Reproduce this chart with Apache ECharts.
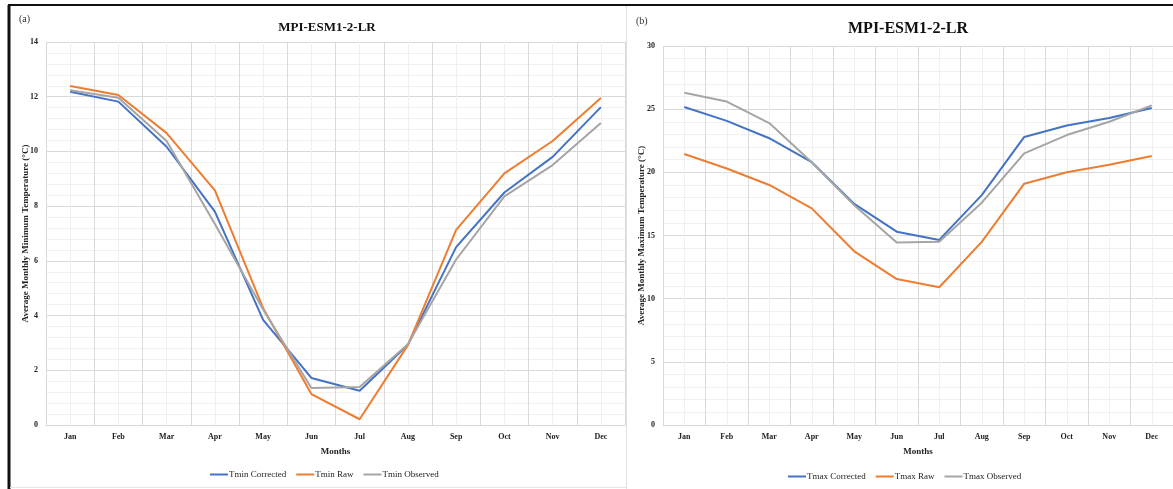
<!DOCTYPE html>
<html>
<head>
<meta charset="utf-8">
<script src="https://cdn.jsdelivr.net/npm/echarts@6/dist/echarts.min.js"></script>
<style>
html,body{margin:0;padding:0;background:#fff;}
#chart{width:1173px;height:489px;}
</style>
</head>
<body>
<div id="chart"></div>
<script>
const months = ['Jan','Feb','Mar','Apr','May','Jun','Jul','Aug','Sep','Oct','Nov','Dec'];
const tminCorrected = [12.18, 11.82, 10.17, 7.8, 3.84, 1.72, 1.25, 2.93, 6.5, 8.5, 9.8, 11.62];
const tminRaw       = [12.39, 12.06, 10.67, 8.58, 4.27, 1.13, 0.21, 2.92, 7.13, 9.2, 10.38, 11.95];
const tminObserved  = [12.24, 11.96, 10.38, 7.35, 4.22, 1.35, 1.39, 2.95, 6.05, 8.36, 9.5, 11.04];
const tmaxCorrected = [25.17, 24.07, 22.7, 20.8, 17.5, 15.3, 14.65, 18.2, 22.8, 23.7, 24.3, 25.1];
const tmaxRaw       = [21.45, 20.3, 19.0, 17.15, 13.75, 11.55, 10.9, 14.5, 19.1, 20.0, 20.6, 21.3];
const tmaxObserved  = [26.3, 25.6, 23.9, 20.8, 17.4, 14.45, 14.5, 17.6, 21.5, 22.95, 24.0, 25.3];

const C_BLUE = '#4472C4', C_ORANGE = '#ED7D31', C_GREY = '#A5A5A5';
const SERIF = '"Liberation Serif","DejaVu Serif",serif';

function catAxis(grid){
  return {
    type:'category', gridIndex:grid, data:months, boundaryGap:true,
    axisLine:{show:true,lineStyle:{color:'#d9d9d9'}}, axisTick:{show:false},
    splitLine:{show:false},
    axisLabel:{fontFamily:SERIF,fontWeight:'bold',fontSize:8,color:'#222',margin:8},
    name:'Months', nameLocation:'middle', nameGap:22, nameMoveOverlap:false,
    nameTextStyle:{fontFamily:SERIF,fontWeight:'bold',fontSize:9,color:'#222'}
  };
}
function gridAxis(grid){
  return {
    type:'value', gridIndex:grid, min:0, max:24, interval:1, show:true,
    axisLine:{show:false}, axisTick:{show:false}, axisLabel:{show:false},
    splitLine:{show:true,lineStyle:{color:['#d9d9d9','#f0f0f0'],width:1}}
  };
}
function valAxis(grid,max,interval,name,gap){
  return {
    type:'value', gridIndex:grid, min:0, max:max, interval:interval,
    axisLine:{show:false}, axisTick:{show:false},
    axisLabel:{fontFamily:SERIF,fontWeight:'bold',fontSize:8,color:'#222',margin:8},
    splitLine:{show:true,lineStyle:{color:'#d9d9d9'}},
    minorTick:{show:false,splitNumber:5},
    minorSplitLine:{show:true,lineStyle:{color:'#f0f0f0'}},
    name:name, nameLocation:'middle', nameRotate:90, nameGap:gap, nameMoveOverlap:false,
    nameTextStyle:{fontFamily:SERIF,fontWeight:'bold',fontSize:9,color:'#222'}
  };
}
function line(name,data,color,xi,yi){
  return {name:name,type:'line',data:data,xAxisIndex:xi,yAxisIndex:yi,
    symbol:'none',lineStyle:{color:color,width:2},itemStyle:{color:color},z:5};
}

const legendText = {fontFamily:SERIF,fontSize:9,color:'#222',padding:[0,0,0,-4]};
const option = {
  backgroundColor:'#fff',
  animation:false,
  title:[
    {text:'MPI-ESM1-2-LR',left:322,top:16,textAlign:'center',
     textStyle:{fontFamily:SERIF,fontWeight:'bold',fontSize:13,color:'#111'}},
    {text:'MPI-ESM1-2-LR',left:903,top:16,textAlign:'center',
     textStyle:{fontFamily:SERIF,fontWeight:'bold',fontSize:16,color:'#111'}}
  ],
  grid:[
    {left:46,right:548,top:42,bottom:64},
    {left:663,right:0,top:46,bottom:64}
  ],
  xAxis:[catAxis(0),gridAxis(0),catAxis(1),gridAxis(1)],
  yAxis:[
    valAxis(0,14,2,'Average Monthly Minimum Temperature (°C)',16),
    valAxis(1,30,5,'Average Monthly Maximum Temperature (°C)',17)
  ],
  legend:[
    {left:210,top:470,padding:0,itemWidth:18,itemHeight:2,icon:'rect',itemGap:10,
     data:['Tmin Corrected','Tmin Raw','Tmin Observed'],textStyle:legendText},
    {left:788,top:472,padding:0,itemWidth:18,itemHeight:2,icon:'rect',itemGap:10,
     data:['Tmax Corrected','Tmax Raw','Tmax Observed'],textStyle:legendText}
  ],
  series:[
    line('Tmin Corrected',tminCorrected,C_BLUE,0,0),
    line('Tmin Raw',tminRaw,C_ORANGE,0,0),
    line('Tmin Observed',tminObserved,C_GREY,0,0),
    line('Tmax Corrected',tmaxCorrected,C_BLUE,2,1),
    line('Tmax Raw',tmaxRaw,C_ORANGE,2,1),
    line('Tmax Observed',tmaxObserved,C_GREY,2,1)
  ],
  graphic:[
    {type:'text',left:19,top:14,style:{text:'(a)',font:'10px "Liberation Serif",serif',fill:'#333'}},
    {type:'text',left:636,top:16,style:{text:'(b)',font:'10px "Liberation Serif",serif',fill:'#333'}},
    {type:'line',shape:{x1:8,y1:5,x2:1173,y2:5},style:{stroke:'#111',lineWidth:2},z:10},
    {type:'line',shape:{x1:9,y1:5,x2:9,y2:489},style:{stroke:'#111',lineWidth:3},z:10},
    {type:'line',shape:{x1:626.5,y1:6,x2:626.5,y2:489},style:{stroke:'#e0e0e0',lineWidth:1},z:10},
    {type:'line',shape:{x1:10,y1:487.5,x2:626,y2:487.5},style:{stroke:'#e6e6e6',lineWidth:1},z:10}
  ]
};
const chart = echarts.init(document.getElementById('chart'),null,{renderer:'canvas'});
chart.setOption(option);
</script>
</body>
</html>
